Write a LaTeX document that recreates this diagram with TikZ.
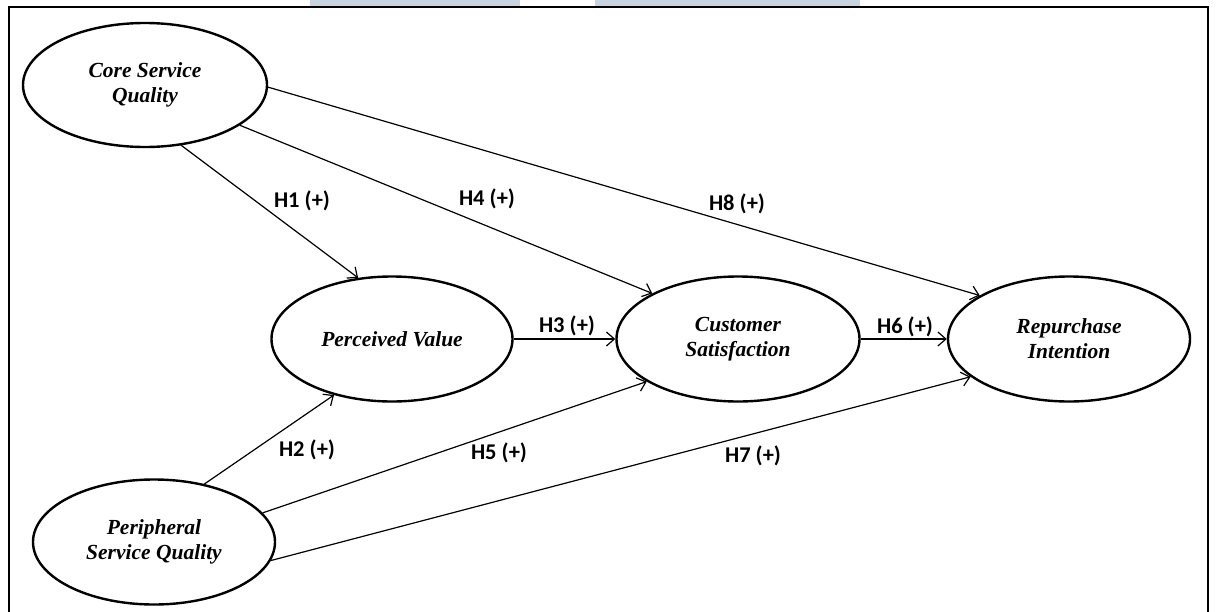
\documentclass[tikz,border=0pt]{standalone}
\usepackage{fontspec}
\setmainfont{Liberation Serif}
\newfontfamily\labfont{Carlito}
\usetikzlibrary{arrows.meta,shapes.geometric}
\definecolor{barblue}{HTML}{C8D3E0}
\tikzset{
  construct/.style={draw, line width=2.4pt, ellipse, inner sep=0pt, align=center,
    font=\fontsize{21.5}{25}\selectfont\bfseries\itshape},
  conn/.style={line width=1.2pt, -{Straight Barb[length=8pt,width=14pt,line width=1.2pt]}},
  hyp/.style={font=\labfont\fontsize{22.5}{24}\selectfont\bfseries, inner sep=0pt},
  frame/.style={line width=2pt}
}
\begin{document}
\begin{tikzpicture}[x=1pt,y=-1pt]
\useasboundingbox (0,0) rectangle (1216,611);
\fill[barblue] (310,0) rectangle (520,6);
\fill[barblue] (595,0) rectangle (860,6);
\draw[frame] (9,615) -- (9,7) -- (1208,7) -- (1208,615);

\node[construct, minimum width=244pt, minimum height=124pt] (core) at (145,85) {Core Service\\Quality};
\node[construct, minimum width=241pt, minimum height=125pt] (pv) at (392,339) {Perceived Value};
\node[construct, minimum width=243pt, minimum height=125pt] (cs) at (738,339) {Customer\\Satisfaction};
\node[construct, minimum width=242pt, minimum height=125pt] (ri) at (1069,339) {Repurchase\\Intention};
\node[construct, minimum width=242pt, minimum height=125pt] (psq) at (154,542) {Peripheral\\Service Quality};

\draw[conn] (core.-59.5) -- (pv.119.7);
\draw[conn] (core.-23.8) -- (cs.152.7);
\draw[conn] (core.-1.5) -- (ri.154.1);
\draw[conn] (pv.east) -- (cs.west);
\draw[conn] (cs.east) -- (ri.west);
\draw[conn] (psq.49.4) -- (pv.224.5);
\draw[conn] (psq.15.8) -- (cs.205.8);
\draw[conn] (psq.-9.7) -- (ri.201.9);

\node[hyp] (h1) at (302,201) {H1 (+)};
\node[hyp] (h4) at (487,199) {H4 (+)};
\node[hyp] (h8) at (737,204) {H8 (+)};
\node[hyp] (h3) at (567,326) {H3 (+)};
\node[hyp] (h6) at (905,327) {H6 (+)};
\node[hyp] (h2) at (307,450) {H2 (+)};
\node[hyp] (h5) at (499,453) {H5 (+)};
\node[hyp] (h7) at (753,456) {H7 (+)};
\end{tikzpicture}
\end{document}
